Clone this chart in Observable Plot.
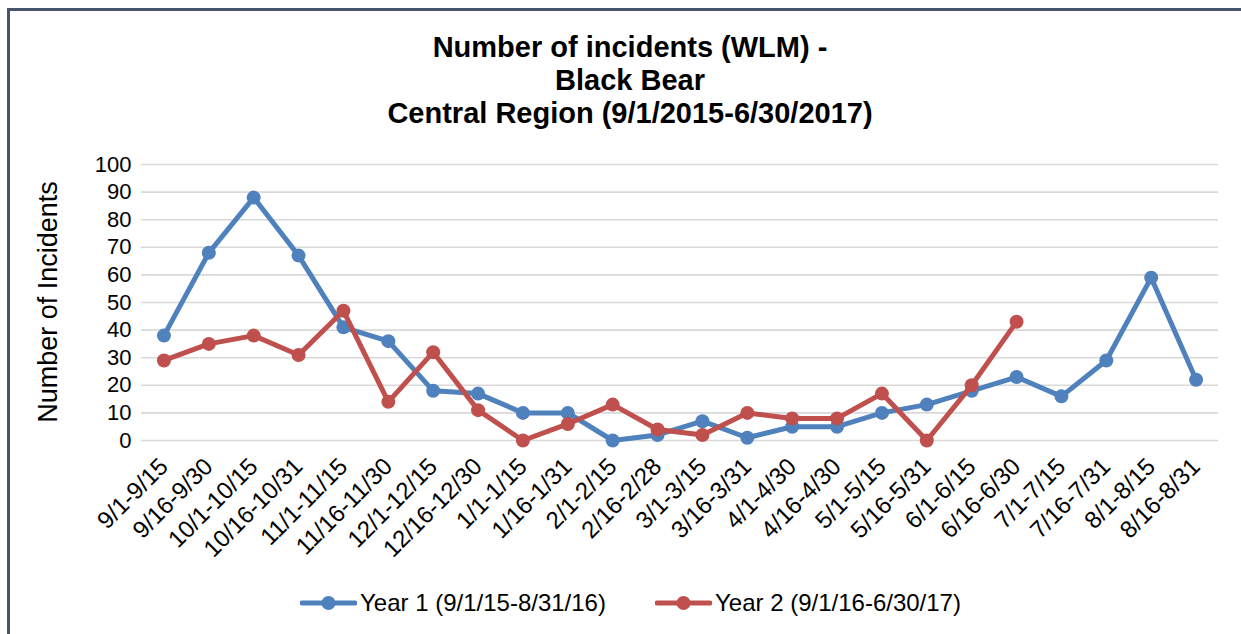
<!DOCTYPE html>
<html><head><meta charset="utf-8">
<script src="https://cdn.jsdelivr.net/npm/d3@7"></script>
<script src="https://cdn.jsdelivr.net/npm/@observablehq/plot@0.6"></script>
<style>
body{margin:0;background:#fff;font-family:"Liberation Sans",Arial,sans-serif;color:#000}
#wrap{position:relative;width:1241px;height:634px;overflow:hidden;background:#fff}
#frame{position:absolute;left:7px;top:8px;width:1300px;height:700px;border-top:3px solid #46546b;border-left:3px solid #46546b;box-sizing:border-box}
#title{position:absolute;left:0;top:31px;width:1260px;text-align:center;font-weight:bold;font-size:29px;line-height:33px}
#chart{position:absolute;left:0;top:140px}
#ylabel{position:absolute;left:48px;top:302px;transform:translate(-50%,-50%) rotate(-90deg);white-space:nowrap;font-size:27px}
.leg{position:absolute;top:589px;display:flex;align-items:center;font-size:24px;white-space:nowrap}
.leg svg{margin-right:3px}
</style></head>
<body>
<div id="wrap">
  <div id="frame"></div>
  <div id="chart"></div>
  <div id="title">Number of incidents (WLM) -<br>Black Bear<br>Central Region (9/1/2015-6/30/2017)</div>
  <div id="ylabel">Number of Incidents</div>
  <div id="legend"></div>
</div>
<script>
const categories = ["9/1-9/15","9/16-9/30","10/1-10/15","10/16-10/31","11/1-11/15","11/16-11/30","12/1-12/15","12/16-12/30","1/1-1/15","1/16-1/31","2/1-2/15","2/16-2/28","3/1-3/15","3/16-3/31","4/1-4/30","4/16-4/30","5/1-5/15","5/16-5/31","6/1-6/15","6/16-6/30","7/1-7/15","7/16-7/31","8/1-8/15","8/16-8/31"];
const year1 = [38,68,88,67,41,36,18,17,10,10,0,2,7,1,5,5,10,13,18,23,16,29,59,22];
const year2 = [29,35,38,31,47,14,32,11,0,6,13,4,2,10,8,8,17,0,20,43];
const seriesNames = ["Year 1 (9/1/15-8/31/16)","Year 2 (9/1/16-6/30/17)"];
const seriesColors = ["#4f81bd","#c0504d"];
const yTicks = [0,10,20,30,40,50,60,70,80,90,100];

const idx = categories.map((c,i)=>i);
const d1 = year1.map((v,i)=>({i, cat:categories[i], value:v}));
const d2 = year2.map((v,i)=>({i, cat:categories[i], value:v}));

const chart = Plot.plot({
  width:1241, height:420,
  marginTop:24, marginBottom:120, marginLeft:141, marginRight:23,
  style:{fontFamily:'"Liberation Sans",Arial,sans-serif', color:"#000", background:"transparent", overflow:"visible"},
  x:{type:"linear", domain:[-0.5, categories.length-0.5]},
  y:{domain:[0,100]},
  marks:[
    Plot.gridY(yTicks,{stroke:"#d9d9d9", strokeOpacity:1, strokeWidth:1.6}),
    Plot.axisY(yTicks,{tickSize:0, tickPadding:10, fontSize:22, label:null}),
    Plot.axisX(idx,{tickSize:0, tickPadding:22, tickRotate:-45, fontSize:24, label:null, tickFormat:i=>categories[i]}),
    Plot.line(d1,{x:"i", y:"value", stroke:seriesColors[0], strokeWidth:5}),
    Plot.dot(d1,{x:"i", y:"value", r:7, fill:seriesColors[0]}),
    Plot.line(d2,{x:"i", y:"value", stroke:seriesColors[1], strokeWidth:5}),
    Plot.dot(d2,{x:"i", y:"value", r:7, fill:seriesColors[1]})
  ]
});
document.getElementById("chart").appendChild(chart);

const legend = document.getElementById("legend");
const lefts = [300,655];
seriesNames.forEach((name,i)=>{
  const item = document.createElement("div");
  item.className = "leg";
  item.style.left = lefts[i]+"px";
  item.innerHTML = `<svg width="57" height="16"><line x1="2" y1="8" x2="55" y2="8" stroke="${seriesColors[i]}" stroke-width="5" stroke-linecap="round"/><circle cx="28.5" cy="8" r="7" fill="${seriesColors[i]}"/></svg><span>${name}</span>`;
  legend.appendChild(item);
});
</script>
</body></html>
